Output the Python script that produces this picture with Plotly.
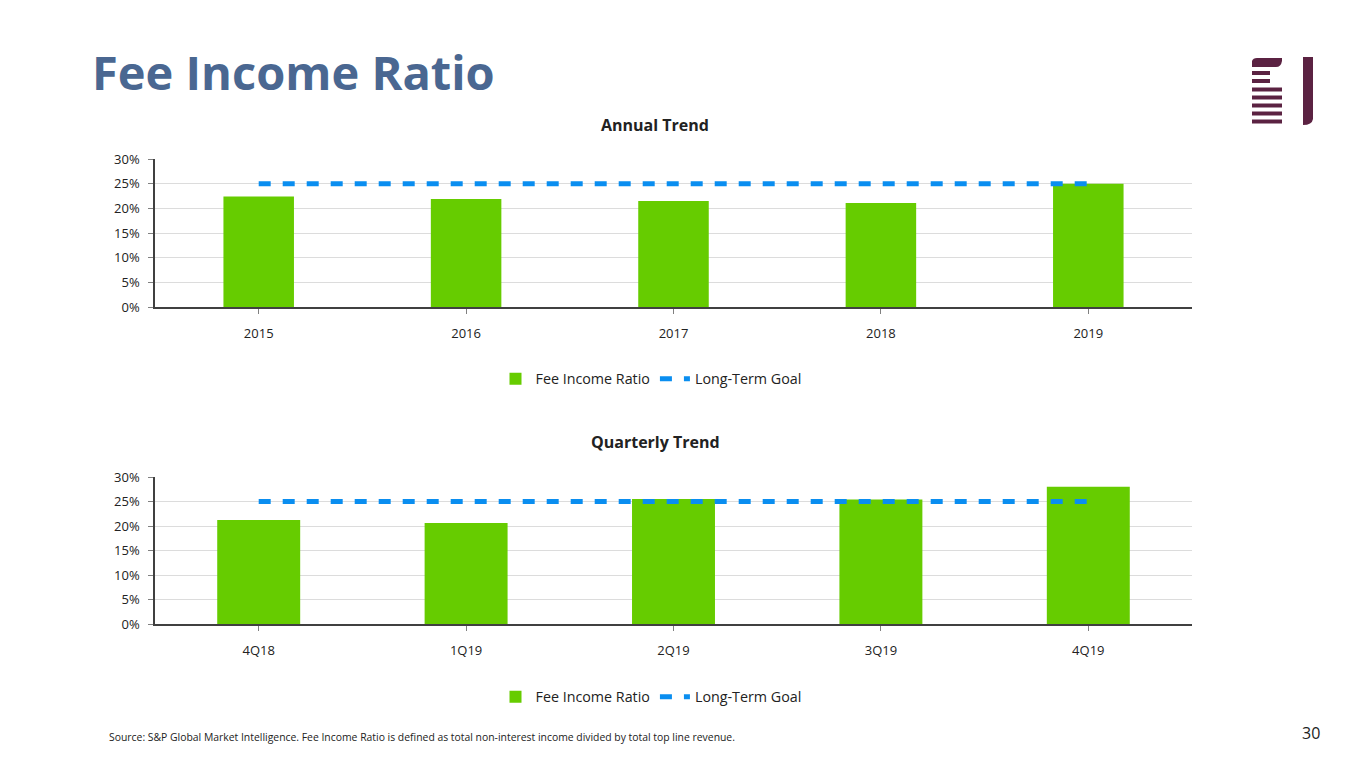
import plotly.graph_objects as go

years = ["2015", "2016", "2017", "2018", "2019"]
annual_ratio = [0.224, 0.219, 0.215, 0.211, 0.250]
annual_goal = [0.25, 0.25, 0.25, 0.25, 0.25]

quarters = ["4Q18", "1Q19", "2Q19", "3Q19", "4Q19"]
quarterly_ratio = [0.212, 0.206, 0.255, 0.254, 0.280]
quarterly_goal = [0.25, 0.25, 0.25, 0.25, 0.25]

W, H = 1365, 768
GREEN = "#66cc00"
BLUE = "#0a8ef0"
FONT = "Open Sans"
TXT = "#222222"

def px(x):
    return x / W

def py(y):
    return 1 - y / H

fig = go.Figure()

fig.add_trace(go.Bar(x=years, y=annual_ratio, name="Fee Income Ratio", marker_color=GREEN,
                     width=0.34, xaxis="x", yaxis="y", legend="legend"))
fig.add_trace(go.Scatter(x=years, y=annual_goal, name="Long-Term Goal", mode="lines",
                         line=dict(color=BLUE, width=5, dash="12px,12px"),
                         xaxis="x", yaxis="y", legend="legend"))
fig.add_trace(go.Bar(x=quarters, y=quarterly_ratio, name="Fee Income Ratio", marker_color=GREEN,
                     width=0.40, xaxis="x2", yaxis="y2", legend="legend2"))
fig.add_trace(go.Scatter(x=quarters, y=quarterly_goal, name="Long-Term Goal", mode="lines",
                         line=dict(color=BLUE, width=5, dash="12px,12px"),
                         xaxis="x2", yaxis="y2", legend="legend2"))

xdom = [px(155), px(1192)]
yaxis_common = dict(range=[0, 0.30], dtick=0.05, tickformat=".0%", showgrid=True,
                    gridcolor="#dcdcdc", gridwidth=1, showline=True, linecolor="#404040",
                    linewidth=1.5, ticks="outside", ticklen=5, tickcolor="#808080",
                    tickfont=dict(family=FONT, size=13, color=TXT), zeroline=False,
                    ticklabelstandoff=6, automargin=False, fixedrange=True)
xaxis_common = dict(showline=True, linecolor="#404040", linewidth=1.5, ticks="outside",
                    ticklen=5, tickcolor="#808080", showgrid=False,
                    tickfont=dict(family=FONT, size=13, color=TXT),
                    ticklabelstandoff=9, automargin=False, fixedrange=True)

legend_common = dict(orientation="h", xanchor="center", yanchor="middle",
                     font=dict(family=FONT, size=14.3, color=TXT), bgcolor="rgba(0,0,0,0)",
                     itemwidth=30, tracegroupgap=0)

fig.update_layout(
    template="none",
    width=W, height=H, margin=dict(l=0, r=0, t=0, b=0, autoexpand=False),
    paper_bgcolor="white", plot_bgcolor="white",
    xaxis=dict(domain=xdom, anchor="y", **xaxis_common),
    yaxis=dict(domain=[py(307), py(159)], anchor="x", **yaxis_common),
    xaxis2=dict(domain=xdom, anchor="y2", **xaxis_common),
    yaxis2=dict(domain=[py(624), py(477)], anchor="x2", **yaxis_common),
    legend=dict(x=px(651), y=py(379), **legend_common),
    legend2=dict(x=px(651), y=py(697), **legend_common),
    showlegend=True,
)

annotations = [
    dict(text="<b>Fee Income Ratio</b>", x=px(90), y=py(72), xanchor="left", yanchor="middle",
         font=dict(family=FONT, size=47, color="#4a6791")),
    dict(text="<b>Annual Trend</b>", x=px(655), y=py(125), xanchor="center", yanchor="middle",
         font=dict(family=FONT, size=16, color=TXT)),
    dict(text="<b>Quarterly Trend</b>", x=px(655), y=py(442), xanchor="center", yanchor="middle",
         font=dict(family=FONT, size=16, color=TXT)),
    dict(text="Source: S&P Global Market Intelligence. Fee Income Ratio is defined as total non-interest income divided by total top line revenue.",
         x=px(107), y=py(737), xanchor="left", yanchor="middle",
         font=dict(family=FONT, size=10.4, color=TXT)),
    dict(text="30", x=px(1322), y=py(733), xanchor="right", yanchor="middle",
         font=dict(family=FONT, size=16, color=TXT)),
]
for a in annotations:
    a.update(xref="paper", yref="paper", showarrow=False)
fig.update_layout(annotations=annotations)

# Logo
MAROON = "#5b2242"
shapes = []
def rect(x0, y0, x1, y1):
    shapes.append(dict(type="rect", xref="paper", yref="paper", x0=px(x0), x1=px(x1),
                       y0=py(y1), y1=py(y0), fillcolor=MAROON, line=dict(width=0)))
shapes.append(dict(type="path", xref="paper", yref="paper",
                   path=f"M {px(1252)},{py(67)} L {px(1252)},{py(61)} Q {px(1253)},{py(58)} {px(1257)},{py(58)} "
                        f"L {px(1282)},{py(58)} L {px(1282)},{py(61)} Q {px(1281)},{py(67)} {px(1276)},{py(67)} Z",
                   fillcolor=MAROON, line=dict(width=0)))
rect(1252, 71, 1270, 75)
rect(1252, 79, 1270, 83)
for y0 in [87.5, 95.5, 103.5, 111.5, 119.5]:
    rect(1252, y0, 1282, y0 + 4)
shapes.append(dict(type="path", xref="paper", yref="paper",
                   path=f"M {px(1303)},{py(57)} L {px(1313)},{py(57)} L {px(1313)},{py(119)} "
                        f"Q {px(1312)},{py(125)} {px(1303)},{py(125)} Z",
                   fillcolor=MAROON, line=dict(width=0)))
fig.update_layout(shapes=shapes)

fig.write_html("out.html", config={"displayModeBar": False},
               post_script="document.body.style.margin='0';")
